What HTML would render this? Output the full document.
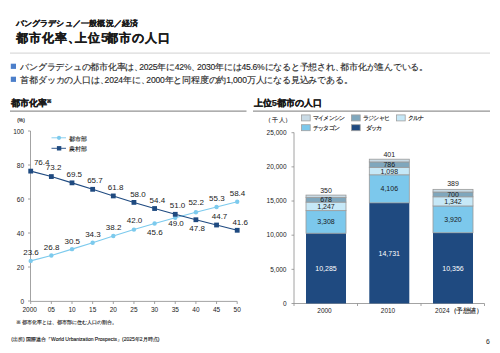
<!DOCTYPE html><html><head><meta charset="utf-8"><style>
html,body{margin:0;padding:0;background:#fff;}
body{width:500px;height:353px;overflow:hidden;position:relative;font-family:"Liberation Sans",sans-serif;}
svg{position:absolute;left:0;top:0;}
text{font-family:"Liberation Sans",sans-serif;}
</style></head><body>
<svg width="500" height="353" viewBox="0 0 500 353">
<text x="15.5" y="26.3" font-size="8.2" font-weight="bold" fill="#1a1a1a" letter-spacing="0.2" stroke="#1a1a1a" stroke-width="0.15">バングラデシュ／一般概況／経済</text>
<text x="15.5" y="42" font-size="12.4" font-weight="bold" fill="#1a1a1a" letter-spacing="1" stroke="#1a1a1a" stroke-width="0.22">都市化率<tspan letter-spacing="-4.5">、</tspan>上位<tspan letter-spacing="-1.5">5</tspan>都市の人口</text>
<rect x="10" y="52.5" width="480" height="1.2" fill="#d9d9d9"/>
<rect x="10.8" y="63.7" width="5.2" height="5.2" fill="#4c7fca"/>
<rect x="10.8" y="76.7" width="5.2" height="5.2" fill="#4c7fca"/>
<text x="20.4" y="70.4" font-size="8.6" fill="#262626" letter-spacing="-0.25" stroke="#262626" stroke-width="0.12">バングラデシュの都市化率は<tspan letter-spacing="-4">、</tspan>2025年に42%<tspan letter-spacing="-3.2">、</tspan>2030年には45.6%になると予想され<tspan letter-spacing="-3.2">、</tspan>都市化が進んでいる。</text>
<text x="20.4" y="82.9" font-size="8.6" fill="#262626" letter-spacing="-0.2" stroke="#262626" stroke-width="0.12">首都ダッカの人口は<tspan letter-spacing="-4">、</tspan>2024年に<tspan letter-spacing="-3.2">、</tspan>2000年と同程度の約1,000万人になる見込みである。</text>
<text x="10.5" y="106" font-size="9.2" font-weight="bold" fill="#1a1a1a" stroke="#1a1a1a" stroke-width="0.25">都市化率<tspan font-size="5.2" dy="-3.2" stroke-width="0.12">※</tspan></text>
<rect x="10" y="110.4" width="236.5" height="1.5" fill="#a6a6a6"/>
<text x="253.5" y="106.1" font-size="9.2" font-weight="bold" fill="#1a1a1a" stroke="#1a1a1a" stroke-width="0.25" letter-spacing="0.1">上位<tspan letter-spacing="-0.3">5</tspan>都市の人口</text>
<rect x="253" y="110.4" width="237" height="1.5" fill="#a6a6a6"/>
<g stroke="#8c8c8c" stroke-width="0.8" fill="none">
<line x1="30.5" y1="131" x2="30.5" y2="301.4"/>
<line x1="30.5" y1="301.4" x2="237.20" y2="301.4"/>
<line x1="28" y1="301.00" x2="30.5" y2="301.00"/>
<line x1="28" y1="267.00" x2="30.5" y2="267.00"/>
<line x1="28" y1="233.00" x2="30.5" y2="233.00"/>
<line x1="28" y1="199.00" x2="30.5" y2="199.00"/>
<line x1="28" y1="165.00" x2="30.5" y2="165.00"/>
<line x1="28" y1="131.00" x2="30.5" y2="131.00"/>
<line x1="30.70" y1="301.4" x2="30.70" y2="304"/>
<line x1="51.35" y1="301.4" x2="51.35" y2="304"/>
<line x1="72.00" y1="301.4" x2="72.00" y2="304"/>
<line x1="92.65" y1="301.4" x2="92.65" y2="304"/>
<line x1="113.30" y1="301.4" x2="113.30" y2="304"/>
<line x1="133.95" y1="301.4" x2="133.95" y2="304"/>
<line x1="154.60" y1="301.4" x2="154.60" y2="304"/>
<line x1="175.25" y1="301.4" x2="175.25" y2="304"/>
<line x1="195.90" y1="301.4" x2="195.90" y2="304"/>
<line x1="216.55" y1="301.4" x2="216.55" y2="304"/>
<line x1="237.20" y1="301.4" x2="237.20" y2="304"/>
</g>
<g font-size="6.5" fill="#1a1a1a" text-anchor="end">
<text x="24" y="303.80">0</text>
<text x="24" y="269.80">20</text>
<text x="24" y="235.80">40</text>
<text x="24" y="201.80">60</text>
<text x="24" y="167.80">80</text>
<text x="24" y="133.80">100</text>
</g>
<text x="21" y="122.4" font-size="4.8" fill="#1a1a1a" text-anchor="middle" stroke="#1a1a1a" stroke-width="0.15">(%)</text>
<g font-size="6.5" fill="#1a1a1a" text-anchor="middle">
<text x="29.70" y="311.5">2000</text>
<text x="51.35" y="311.5">05</text>
<text x="72.00" y="311.5">10</text>
<text x="92.65" y="311.5">15</text>
<text x="113.30" y="311.5">20</text>
<text x="133.95" y="311.5">25</text>
<text x="154.60" y="311.5">30</text>
<text x="175.25" y="311.5">35</text>
<text x="195.90" y="311.5">40</text>
<text x="216.55" y="311.5">45</text>
<text x="237.20" y="311.5">50</text>
</g>
<polyline points="30.70,260.88 51.35,255.44 72.00,249.15 92.65,242.69 113.30,236.06 133.95,229.60 154.60,223.48 175.25,217.70 195.90,212.26 216.55,206.99 237.20,201.72" fill="none" stroke="#7ccaed" stroke-width="1.1"/>
<polyline points="30.70,171.12 51.35,176.56 72.00,182.85 92.65,189.31 113.30,195.94 133.95,202.40 154.60,208.52 175.25,214.30 195.90,219.74 216.55,225.01 237.20,230.28" fill="none" stroke="#1f4a80" stroke-width="1.1"/>
<circle cx="30.70" cy="260.88" r="2.2" fill="#7ccaed"/>
<circle cx="51.35" cy="255.44" r="2.2" fill="#7ccaed"/>
<circle cx="72.00" cy="249.15" r="2.2" fill="#7ccaed"/>
<circle cx="92.65" cy="242.69" r="2.2" fill="#7ccaed"/>
<circle cx="113.30" cy="236.06" r="2.2" fill="#7ccaed"/>
<circle cx="133.95" cy="229.60" r="2.2" fill="#7ccaed"/>
<circle cx="154.60" cy="223.48" r="2.2" fill="#7ccaed"/>
<circle cx="175.25" cy="217.70" r="2.2" fill="#7ccaed"/>
<circle cx="195.90" cy="212.26" r="2.2" fill="#7ccaed"/>
<circle cx="216.55" cy="206.99" r="2.2" fill="#7ccaed"/>
<circle cx="237.20" cy="201.72" r="2.2" fill="#7ccaed"/>
<rect x="28.30" y="168.72" width="4.8" height="4.8" fill="#1f4a80"/>
<rect x="48.95" y="174.16" width="4.8" height="4.8" fill="#1f4a80"/>
<rect x="69.60" y="180.45" width="4.8" height="4.8" fill="#1f4a80"/>
<rect x="90.25" y="186.91" width="4.8" height="4.8" fill="#1f4a80"/>
<rect x="110.90" y="193.54" width="4.8" height="4.8" fill="#1f4a80"/>
<rect x="131.55" y="200.00" width="4.8" height="4.8" fill="#1f4a80"/>
<rect x="152.20" y="206.12" width="4.8" height="4.8" fill="#1f4a80"/>
<rect x="172.85" y="211.90" width="4.8" height="4.8" fill="#1f4a80"/>
<rect x="193.50" y="217.34" width="4.8" height="4.8" fill="#1f4a80"/>
<rect x="214.15" y="222.61" width="4.8" height="4.8" fill="#1f4a80"/>
<rect x="234.80" y="227.88" width="4.8" height="4.8" fill="#1f4a80"/>
<g font-size="8" fill="#1a1a1a" text-anchor="middle">
<text x="31.00" y="255.28">23.6</text>
<text x="51.65" y="249.84">26.8</text>
<text x="72.30" y="243.55">30.5</text>
<text x="92.95" y="237.09">34.3</text>
<text x="113.60" y="230.46">38.2</text>
<text x="134.55" y="222.70">42.0</text>
<text x="154.90" y="235.38">45.6</text>
<text x="176.05" y="226.40">49.0</text>
<text x="196.20" y="205.36">52.2</text>
<text x="216.85" y="200.89">55.3</text>
<text x="237.50" y="196.12">58.4</text>
<text x="41.70" y="164.82">76.4</text>
<text x="53.65" y="170.46">73.2</text>
<text x="74.30" y="176.75">69.5</text>
<text x="94.95" y="183.21">65.7</text>
<text x="115.60" y="189.84">61.8</text>
<text x="137.95" y="196.60">58.0</text>
<text x="157.40" y="202.92">54.4</text>
<text x="177.55" y="207.90">51.0</text>
<text x="197.10" y="231.14">47.8</text>
<text x="219.55" y="219.11">44.7</text>
<text x="240.20" y="224.58">41.6</text>
</g>
<line x1="51.5" y1="137.8" x2="66" y2="137.8" stroke="#7ccaed" stroke-width="0.9"/><circle cx="59" cy="137.8" r="2.1" fill="#7ccaed"/>
<line x1="51.5" y1="148.3" x2="66" y2="148.3" stroke="#1f4a80" stroke-width="0.9"/><rect x="56.9" y="146.1" width="4.4" height="4.4" fill="#1f4a80"/>
<text x="69.3" y="140.6" font-size="6" fill="#1a1a1a" letter-spacing="0.1" stroke="#1a1a1a" stroke-width="0.12">都市部</text>
<text x="69.3" y="151.1" font-size="6" fill="#1a1a1a" letter-spacing="0.1" stroke="#1a1a1a" stroke-width="0.12">農村部</text>
<text x="16" y="323.9" font-size="5" fill="#1a1a1a" stroke="#1a1a1a" stroke-width="0.12">※ 都市化率とは、都市部に住む人口の割合。</text>
<text x="11.3" y="340.7" font-size="5" fill="#1a1a1a" stroke="#1a1a1a" stroke-width="0.12">(出所) 国際連合「World Urbanization Prospects」(2025年2月時点)</text>
<g stroke="#8c8c8c" stroke-width="0.8" fill="none">
<line x1="294" y1="132.5" x2="294" y2="303.5"/>
<line x1="294" y1="303.5" x2="484.5" y2="303.5"/>
<line x1="291.5" y1="303.50" x2="294" y2="303.50"/>
<line x1="291.5" y1="269.34" x2="294" y2="269.34"/>
<line x1="291.5" y1="235.18" x2="294" y2="235.18"/>
<line x1="291.5" y1="201.02" x2="294" y2="201.02"/>
<line x1="291.5" y1="166.86" x2="294" y2="166.86"/>
<line x1="291.5" y1="132.70" x2="294" y2="132.70"/>
<line x1="294" y1="303.5" x2="294" y2="306"/>
<line x1="357.5" y1="303.5" x2="357.5" y2="306"/>
<line x1="421" y1="303.5" x2="421" y2="306"/>
<line x1="484.5" y1="303.5" x2="484.5" y2="306"/>
</g>
<g font-size="6.5" fill="#1a1a1a" text-anchor="end">
<text x="286.5" y="305.80">0</text>
<text x="286.5" y="271.64">5,000</text>
<text x="286.5" y="237.48">10,000</text>
<text x="286.5" y="203.32">15,000</text>
<text x="286.5" y="169.16">20,000</text>
<text x="286.5" y="135.00">25,000</text>
</g>
<text x="265" y="122.3" font-size="5.5" fill="#1a1a1a" letter-spacing="0.8" stroke="#1a1a1a" stroke-width="0.1">（千人）</text>
<rect x="301.4" y="114.9" width="8.8" height="6" fill="#c9dbe6" stroke="#a0a0a0" stroke-width="0.8"/>
<text x="312.7" y="120.1" font-size="6" fill="#1a1a1a" letter-spacing="-0.7" stroke="#1a1a1a" stroke-width="0.15">マイメンシン</text>
<rect x="351.4" y="114.9" width="8.8" height="6" fill="#7fa7bd" stroke="#a0a0a0" stroke-width="0.8"/>
<text x="362.7" y="120.1" font-size="6" fill="#1a1a1a" letter-spacing="-0.7" stroke="#1a1a1a" stroke-width="0.15">ラジシャヒ</text>
<rect x="396.4" y="114.9" width="8.8" height="6" fill="#c6e8f7" stroke="#a0a0a0" stroke-width="0.8"/>
<text x="407.7" y="120.1" font-size="6" fill="#1a1a1a" letter-spacing="-0.7" stroke="#1a1a1a" stroke-width="0.15">クルナ</text>
<rect x="301.4" y="124.7" width="8.8" height="6" fill="#7cc8ec" stroke="#a0a0a0" stroke-width="0.8"/>
<text x="312.7" y="129.9" font-size="6" fill="#1a1a1a" letter-spacing="-0.7" stroke="#1a1a1a" stroke-width="0.15">チッタゴン</text>
<rect x="351.4" y="124.7" width="8.8" height="6" fill="#1f4a80" stroke="#a0a0a0" stroke-width="0.8"/>
<text x="365.5" y="129.9" font-size="6" fill="#1a1a1a" letter-spacing="-0.7" stroke="#1a1a1a" stroke-width="0.15">ダッカ</text>
<rect x="306.00" y="233.23" width="40" height="70.27" fill="#1f4a80"/>
<rect x="306.00" y="210.63" width="40" height="22.60" fill="#7cc8ec" stroke="#9a9a9a" stroke-width="0.8"/>
<rect x="306.00" y="202.11" width="40" height="8.52" fill="#c6e8f7" stroke="#9a9a9a" stroke-width="0.8"/>
<rect x="306.00" y="197.48" width="40" height="4.63" fill="#7fa7bd" stroke="#9a9a9a" stroke-width="0.8"/>
<rect x="306.00" y="195.09" width="40" height="2.39" fill="#c9dbe6" stroke="#9a9a9a" stroke-width="0.8"/>
<text x="326.00" y="270.87" font-size="7" fill="#ffffff" text-anchor="middle">10,285</text>
<text x="326.00" y="224.43" font-size="7" fill="#1a1a1a" text-anchor="middle">3,308</text>
<text x="326.00" y="208.87" font-size="7" fill="#1a1a1a" text-anchor="middle">1,247</text>
<text x="326.00" y="202.30" font-size="7" fill="#1a1a1a" text-anchor="middle">678</text>
<text x="326.00" y="193.39" font-size="7" fill="#1a1a1a" text-anchor="middle">350</text>
<rect x="369.30" y="202.86" width="40" height="100.64" fill="#1f4a80"/>
<rect x="369.30" y="174.81" width="40" height="28.05" fill="#7cc8ec" stroke="#9a9a9a" stroke-width="0.8"/>
<rect x="369.30" y="167.30" width="40" height="7.50" fill="#c6e8f7" stroke="#9a9a9a" stroke-width="0.8"/>
<rect x="369.30" y="161.93" width="40" height="5.37" fill="#7fa7bd" stroke="#9a9a9a" stroke-width="0.8"/>
<rect x="369.30" y="159.19" width="40" height="2.74" fill="#c9dbe6" stroke="#9a9a9a" stroke-width="0.8"/>
<text x="389.30" y="255.68" font-size="7" fill="#ffffff" text-anchor="middle">14,731</text>
<text x="389.30" y="191.33" font-size="7" fill="#1a1a1a" text-anchor="middle">4,106</text>
<text x="389.30" y="173.55" font-size="7" fill="#1a1a1a" text-anchor="middle">1,098</text>
<text x="389.30" y="167.12" font-size="7" fill="#1a1a1a" text-anchor="middle">786</text>
<text x="389.30" y="157.49" font-size="7" fill="#1a1a1a" text-anchor="middle">401</text>
<rect x="433.00" y="232.75" width="40" height="70.75" fill="#1f4a80"/>
<rect x="433.00" y="205.97" width="40" height="26.78" fill="#7cc8ec" stroke="#9a9a9a" stroke-width="0.8"/>
<rect x="433.00" y="196.80" width="40" height="9.17" fill="#c6e8f7" stroke="#9a9a9a" stroke-width="0.8"/>
<rect x="433.00" y="192.02" width="40" height="4.78" fill="#7fa7bd" stroke="#9a9a9a" stroke-width="0.8"/>
<rect x="433.00" y="189.36" width="40" height="2.66" fill="#c9dbe6" stroke="#9a9a9a" stroke-width="0.8"/>
<text x="453.00" y="270.62" font-size="7" fill="#ffffff" text-anchor="middle">10,356</text>
<text x="453.00" y="221.86" font-size="7" fill="#1a1a1a" text-anchor="middle">3,920</text>
<text x="453.00" y="203.88" font-size="7" fill="#1a1a1a" text-anchor="middle">1,342</text>
<text x="453.00" y="196.91" font-size="7" fill="#1a1a1a" text-anchor="middle">700</text>
<text x="453.00" y="186.16" font-size="7" fill="#1a1a1a" text-anchor="middle">389</text>
<g font-size="6.5" fill="#1a1a1a" text-anchor="middle">
<text x="324.5" y="312.7">2000</text>
<text x="388" y="312.7">2010</text>
<text x="458.6" y="312.7">2024<tspan letter-spacing="-0.5" stroke="#1a1a1a" stroke-width="0.12">（予想値）</tspan></text>
</g>
<text x="488" y="344.3" font-size="6.8" fill="#1a1a1a" text-anchor="middle">6</text>
</svg></body></html>
